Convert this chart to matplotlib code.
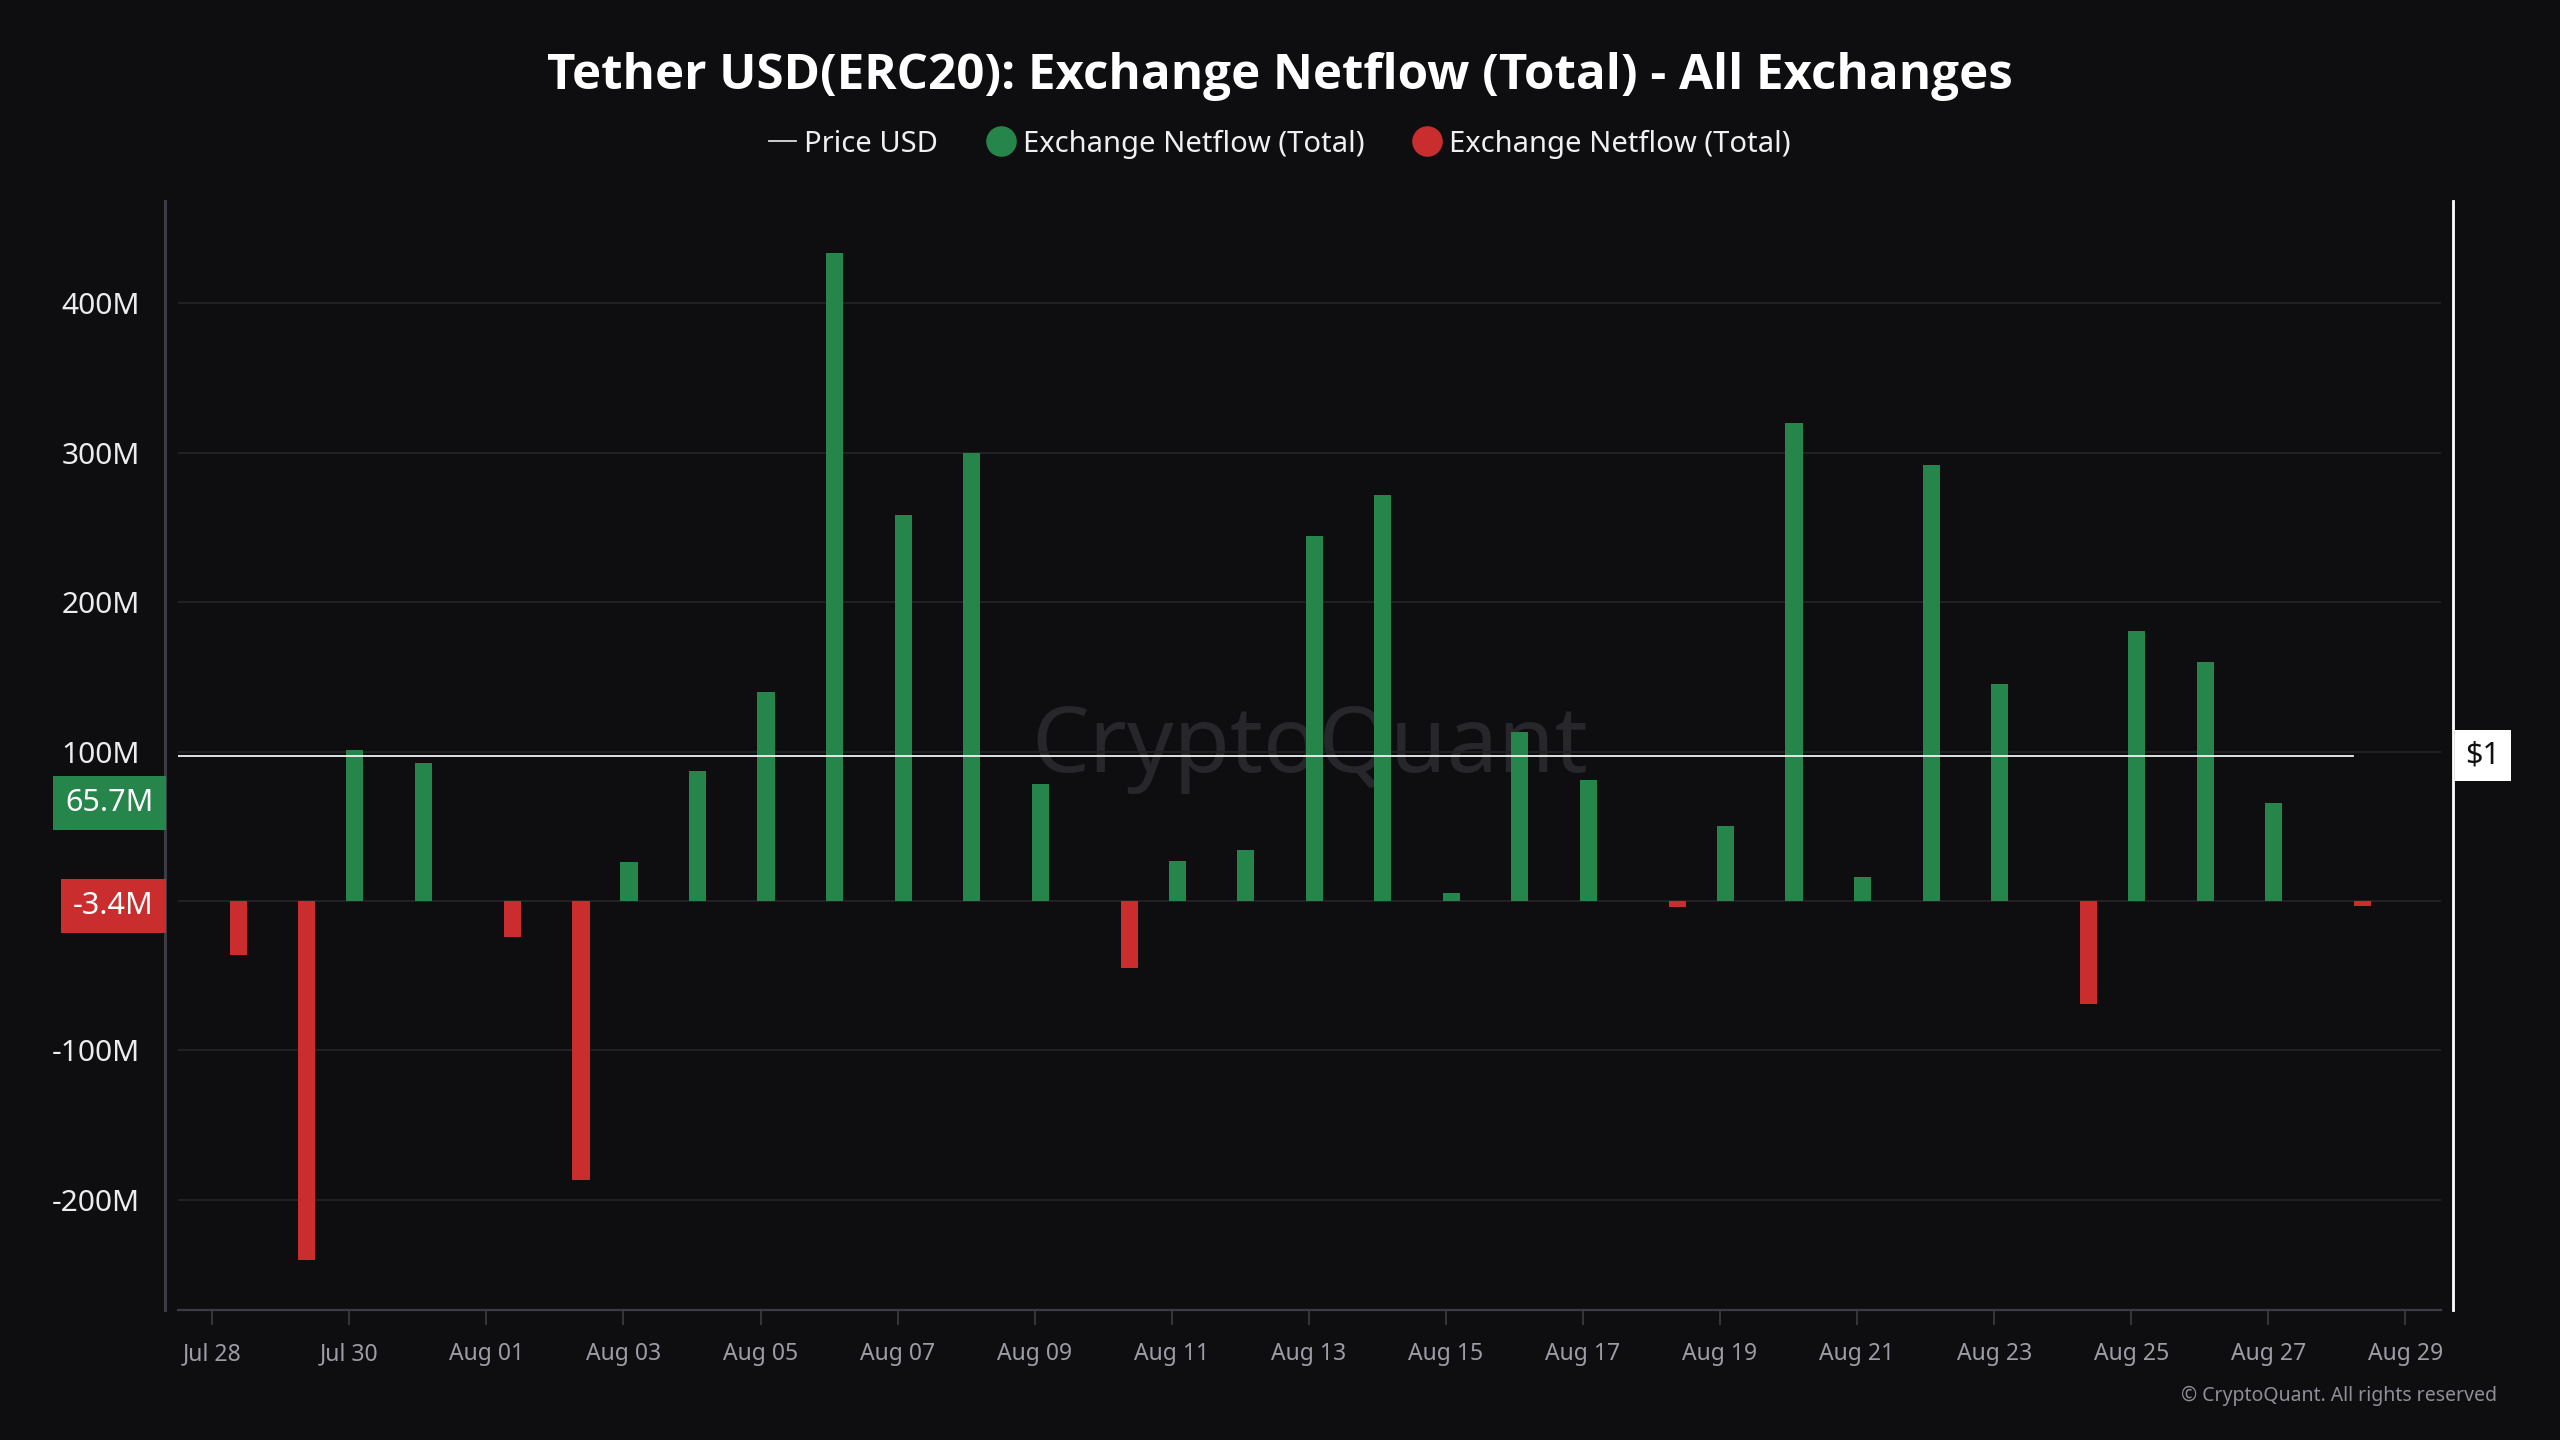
import matplotlib

matplotlib.use("Agg")
import matplotlib.pyplot as plt
import matplotlib.transforms as mtransforms
from matplotlib.lines import Line2D

plt.rcParams["font.family"] = ["Noto Sans", "DejaVu Sans"]

BG = "#0e0e11"
GREEN = "#26854b"
RED = "#c92d2e"
GRID = "#222226"
AXIS = "#3c3c44"
TICK_TXT = "#9c9ca4"

# --- data (millions of USDT) ---
days = [
    "Jul 28", "Jul 29", "Jul 30", "Jul 31", "Aug 01", "Aug 02", "Aug 03", "Aug 04",
    "Aug 05", "Aug 06", "Aug 07", "Aug 08", "Aug 09", "Aug 10", "Aug 11", "Aug 12",
    "Aug 13", "Aug 14", "Aug 15", "Aug 16", "Aug 17", "Aug 18", "Aug 19", "Aug 20",
    "Aug 21", "Aug 22", "Aug 23", "Aug 24", "Aug 25", "Aug 26", "Aug 27", "Aug 28",
]
netflow_m = [
    -36, -240, 101, 92, -24, -187, 26, 87,
    140, 434, 258, 300, 78, -45, 27, 34,
    244, 272, 5, 113, 81, -4, 50, 320,
    16, 292, 145, -69, 181, 160, 65.7, -3.4,
]
price_days = ["Jul 27"] + days
price_usd = [1.0] * len(price_days)
tick_labels = [
    "Jul 28", "Jul 30", "Aug 01", "Aug 03", "Aug 05", "Aug 07", "Aug 09", "Aug 11",
    "Aug 13", "Aug 15", "Aug 17", "Aug 19", "Aug 21", "Aug 23", "Aug 25", "Aug 27",
    "Aug 29",
]
y_ticks_m = [-200, -100, 0, 100, 200, 300, 400]


def day_index(label):
    """Days since Jul 28."""
    mon, d = label.split()
    return int(d) - 28 if mon == "Jul" else int(d) + 3


# timestamps shown in a +5.5h timezone, columns grouped per series
SHIFT = 0.23
GROUP = 0.15
BAR_W = 0.25

fig = plt.figure(figsize=(25.6, 14.4), dpi=100, facecolor=BG)
ax = fig.add_axes([178 / 2560, 1 - 1310 / 1440, 2263 / 2560, 1109 / 1440])
ax.set_facecolor(BG)

for lab, v in zip(days, netflow_m):
    x = day_index(lab) + SHIFT
    if v >= 0:
        ax.bar(x - GROUP, v * 1e6, width=BAR_W, color=GREEN, zorder=3)
    else:
        ax.bar(x + GROUP, v * 1e6, width=BAR_W, color=RED, zorder=3)

ax.set_xlim(-0.5, 32.52)
ax.set_ylim(-273.8e6, 468.5e6)

ax.set_yticks([t * 1e6 for t in y_ticks_m])
ax.set_yticklabels(["" if t == 0 else f"{t}M" for t in y_ticks_m])
ax.grid(axis="y", color=GRID, linewidth=1.4, zorder=0)
ax.tick_params(axis="y", length=0, pad=18, labelsize=21.5, labelcolor="#ececec")

ax.set_xticks([day_index(t) for t in tick_labels])
ax.set_xticklabels(tick_labels)
ax.tick_params(axis="x", length=11, width=1.2, color=AXIS, pad=12,
               labelsize=16.5, labelcolor=TICK_TXT)

for s in ("top", "right"):
    ax.spines[s].set_visible(False)
ax.spines["left"].set_position(("outward", 9.4))
ax.spines["left"].set_color(AXIS)
ax.spines["left"].set_linewidth(2.2)
ax.spines["bottom"].set_color(AXIS)
ax.spines["bottom"].set_linewidth(1.6)

ax.text(0.5, 0.507, "CryptoQuant", transform=ax.transAxes, ha="center",
        va="center", fontsize=66, color="#27272b", zorder=1)

# price on its own right axis
ax2 = ax.twinx()
ax2.set_ylim(0, 2)
ax2.plot([day_index(d) + SHIFT for d in price_days], price_usd,
         color="#f2f2f2", linewidth=1.3, zorder=5)
ax2.set_yticks([])
for s in ("top", "left", "bottom"):
    ax2.spines[s].set_visible(False)
ax2.spines["right"].set_position(("outward", 8.6))
ax2.spines["right"].set_color("white")
ax2.spines["right"].set_linewidth(2.0)
ax2.text(1.0, 1.0, "$1",
         transform=mtransforms.offset_copy(
             mtransforms.blended_transform_factory(ax2.transAxes, ax2.transData),
             fig=fig, x=17.5, y=0, units="points"),
         ha="left", va="center", fontsize=22, color="#111111",
         bbox=dict(boxstyle="square,pad=0.34", facecolor="white", edgecolor="none"),
         zorder=6, clip_on=False)

# last-value labels on the left axis
last_pos = [v for v in netflow_m if v >= 0][-1]
last_neg = [v for v in netflow_m if v < 0][-1]
lab_tr = mtransforms.blended_transform_factory(fig.transFigure, ax.transData)
for v, c in ((last_pos, GREEN), (last_neg, RED)):
    fig.text(154 / 2560, v * 1e6, f"{v:g}M", transform=lab_tr, ha="right",
             va="center", fontsize=22, color="white", zorder=10,
             bbox=dict(boxstyle="square,pad=0.4", facecolor=c, edgecolor="none"))

fig.suptitle("Tether USD(ERC20): Exchange Netflow (Total) - All Exchanges",
             x=0.5, y=0.947, va="center", fontsize=35.5, fontweight="bold",
             family=["Open Sans", "Lato", "DejaVu Sans"], color="white")

handles = [
    Line2D([], [], color="#dddddd", linewidth=1.3, label="Price USD"),
    Line2D([], [], marker="o", linestyle="", markersize=21, markerfacecolor=GREEN,
           markeredgecolor=GREEN, label="Exchange Netflow (Total)"),
    Line2D([], [], marker="o", linestyle="", markersize=21, markerfacecolor=RED,
           markeredgecolor=RED, label="Exchange Netflow (Total)"),
]
fig.legend(handles=handles, loc="center", bbox_to_anchor=(0.5, 0.9), ncol=3,
           frameon=False, fontsize=21, labelcolor="#f0f0f0", handlelength=0.9,
           handletextpad=0.3, columnspacing=1.7)

fig.text(2497 / 2560, 1 - 1396 / 1440, "© CryptoQuant. All rights reserved",
         ha="right", va="center", fontsize=14, color="#8e8e96")

fig.savefig("out.png", dpi=100, facecolor=BG)
